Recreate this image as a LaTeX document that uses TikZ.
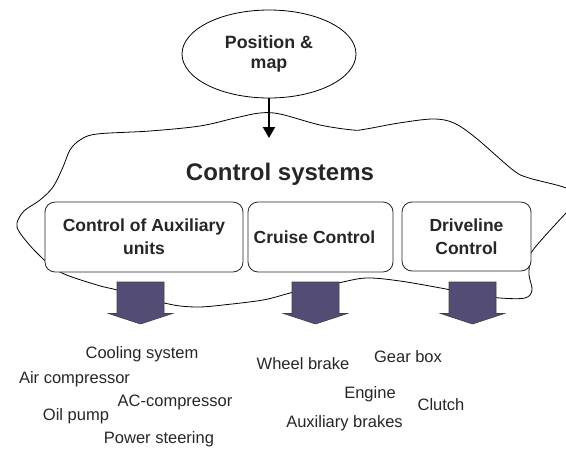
\documentclass[tikz,border=0pt]{standalone}
\usepackage{fontspec}
\setmainfont{Liberation Sans}
\usetikzlibrary{shapes.geometric,arrows.meta}
\definecolor{arrowfill}{HTML}{534C75}
\definecolor{txt}{HTML}{262626}
\tikzset{
  ctrlbox/.style={draw=black!85, line width=0.8pt, fill=white, rounded corners=10pt, inner sep=0pt,
    align=center, text=txt, font=\bfseries\fontsize{17.5}{23}\selectfont},
  itemlabel/.style={anchor=base, inner sep=0pt, text=txt, font=\fontsize{16.5}{20}\selectfont},
  blockarrow/.pic={\path[fill=arrowfill, draw=black!75, line width=0.6pt]
      (-23.5,0) -- (23.5,0) -- (23.5,31.5) -- (32,31.5) -- (0,42) -- (-32,31.5) -- (-23.5,31.5) -- cycle;},
  cloudline/.style={draw=black, line width=0.8pt},
  feedarrow/.style={line width=2.2pt, -{Triangle[width=12pt,length=11pt]}}
}
\begin{document}
\begin{tikzpicture}[x=1pt,y=-1pt]
\useasboundingbox (0,0) rectangle (566,448);
\begin{scope}
\clip (0,0) rectangle (566,448);
\draw[cloudline] plot[smooth cycle, tension=0.55] coordinates {
(17,223) (24,211) (40,200) (53,187) (63,167) (70,150) (80,140) (97,134) (150,131) (200,126)
(235,118) (260,113) (280,114) (320,125) (353,130) (366,129) (399,123) (433,119) (454,123)
(476,138) (513,170) (529,178) (566,188) (580,200) (566,213) (533,250) (530,262) (529,275)
(532,290) (525,298) (500,298) (470,294) (446,289) (400,281) (366,278) (338,283) (310,288)
(290,293) (263,300) (223,305) (200,307) (180,306) (164,303) (140,298) (117,290) (97,285)
(60,272) (37,253) (20,233)};
\end{scope}

\node[ellipse, draw=black, line width=0.8pt, fill=white, minimum width=174pt, minimum height=88pt,
  inner sep=0pt, align=center, text=txt, font=\bfseries\fontsize{17.8}{20}\selectfont]
  (pos) at (269,54) {Position \&\\map};
\coordinate (cloudin) at (269,138);
\draw[feedarrow] (pos.south) -- (cloudin);

\node[anchor=base, inner sep=0pt, text=txt, font=\bfseries\fontsize{24}{28}\selectfont]
  (cs) at (280,180) {Control systems};

\node[ctrlbox, minimum width=198pt, minimum height=70pt] (aux) at (144,237) {Control of Auxiliary\\units};
\node[ctrlbox, minimum width=145pt, minimum height=70pt] (cruise) at (320.5,237) {Cruise Control\hspace*{12pt}};
\node[ctrlbox, minimum width=129pt, minimum height=69pt] (drive) at (466.5,236.5) {Driveline\\Control};

\pic at (140.5,282) {blockarrow};
\pic at (315.5,282) {blockarrow};
\pic at (472.5,282) {blockarrow};

\node[itemlabel] (cool) at (142,358) {Cooling system};
\node[itemlabel] (air) at (74.5,383) {Air compressor};
\node[itemlabel] (ac) at (175,406) {AC-compressor};
\node[itemlabel] (oil) at (76,420) {Oil pump};
\node[itemlabel] (steer) at (159,443) {Power steering};
\node[itemlabel] (wheel) at (303,369) {Wheel brake};
\node[itemlabel] (gear) at (408,362) {Gear box};
\node[itemlabel] (engine) at (370,398) {Engine};
\node[itemlabel] (clutch) at (441,410) {Clutch};
\node[itemlabel] (auxbr) at (344.5,427) {Auxiliary brakes};
\end{tikzpicture}
\end{document}
